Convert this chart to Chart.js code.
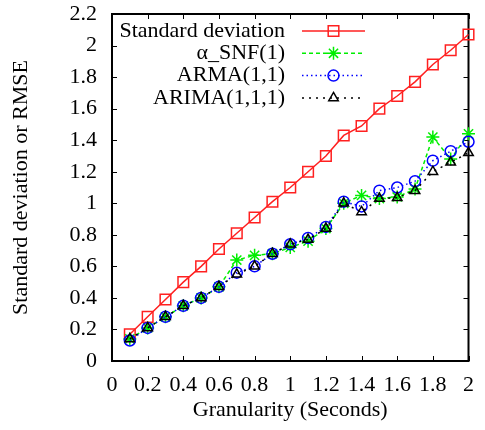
<!DOCTYPE html>
<html>
<head>
<meta charset="utf-8">
<script src="https://cdn.jsdelivr.net/npm/chart.js@4/dist/chart.umd.min.js"></script>
<style>
  html, body { margin: 0; padding: 0; background: #fff; }
  #wrap { width: 485px; height: 430px; }
</style>
</head>
<body>
<div id="wrap"><canvas id="granularityChart"></canvas></div>
<script>
// Granularity in seconds
const granularity = [0.1, 0.2, 0.3, 0.4, 0.5, 0.6, 0.7, 0.8, 0.9, 1.0,
  1.1, 1.2, 1.3, 1.4, 1.5, 1.6, 1.7, 1.8, 1.9, 2.0]

const stdDev = [0.17, 0.28, 0.39, 0.50, 0.60, 0.71, 0.81, 0.91, 1.01, 1.10,
  1.20, 1.30, 1.43, 1.49, 1.60, 1.68, 1.77, 1.88, 1.97, 2.07]
const snfRmse = [0.14, 0.21, 0.28, 0.35, 0.40, 0.47, 0.64, 0.67, 0.68, 0.72,
  0.76, 0.84, 1.00, 1.05, 1.03, 1.04, 1.09, 1.42, 1.28, 1.44]
const armaRmse = [0.13, 0.21, 0.28, 0.35, 0.40, 0.47, 0.56, 0.60, 0.68, 0.74,
  0.78, 0.85, 1.01, 0.98, 1.08, 1.10, 1.14, 1.27, 1.33, 1.39]
const arimaRmse = [0.14, 0.21, 0.28, 0.35, 0.40, 0.47, 0.55, 0.60, 0.68, 0.74,
  0.77, 0.84, 1.00, 0.945, 1.03, 1.035, 1.08, 1.20, 1.26, 1.32]

const xTicks = [0, 0.2, 0.4, 0.6, 0.8, 1, 1.2, 1.4, 1.6, 1.8, 2]
const xTickLabels = ["0", "0.2", "0.4", "0.6", "0.8", "1", "1.2", "1.4", "1.6", "1.8", "2"]
const yTicks = [0, 0.2, 0.4, 0.6, 0.8, 1, 1.2, 1.4, 1.6, 1.8, 2, 2.2]
const yTickLabels = ["0", "0.2", "0.4", "0.6", "0.8", "1", "1.2", "1.4", "1.6", "1.8", "2", "2.2"]

const toPoints = (ys) => granularity.map((x, i) => ({ x: x, y: ys[i] }))

const FONT = "'Liberation Serif', 'DejaVu Serif', serif"

// gnuplot-style frame with inward tick marks on all four sides
const framePlugin = {
  id: "frame",
  beforeDatasetsDraw(chart) {
    const { ctx, chartArea: a, scales } = chart
    const len = 5
    ctx.save()
    ctx.strokeStyle = "#000"
    ctx.lineWidth = 1
    xTicks.forEach((v) => {
      const px = Math.round(scales.x.getPixelForValue(v)) + 0.5
      ctx.beginPath()
      ctx.moveTo(px, a.bottom); ctx.lineTo(px, a.bottom - len)
      ctx.moveTo(px, a.top); ctx.lineTo(px, a.top + len)
      ctx.stroke()
    })
    yTicks.forEach((v) => {
      const py = Math.round(scales.y.getPixelForValue(v)) + 0.5
      ctx.beginPath()
      ctx.moveTo(a.left, py); ctx.lineTo(a.left + len, py)
      ctx.moveTo(a.right, py); ctx.lineTo(a.right - len, py)
      ctx.stroke()
    })
    ctx.lineWidth = 2
    ctx.strokeRect(a.left, a.top, a.right - a.left, a.bottom - a.top)
    ctx.restore()
  },
}

// key in the top-left corner: right-aligned text, line sample to the right
const keyPlugin = {
  id: "key",
  afterDatasetsDraw(chart) {
    const ctx = chart.ctx
    const textRight = 285
    const lineStart = 302
    const lineEnd = 365
    const top = 31
    const step = 22.3
    ctx.save()
    chart.data.datasets.forEach((ds, i) => {
      const y = top + i * step
      ctx.fillStyle = "#000"
      ctx.font = "22px " + FONT
      ctx.textAlign = "right"
      ctx.textBaseline = "middle"
      ctx.fillText(ds.label, textRight, y)

      ctx.strokeStyle = ds.borderColor
      ctx.lineWidth = ds.borderWidth
      ctx.setLineDash(ds.borderDash || [])
      ctx.beginPath()
      ctx.moveTo(lineStart, y)
      ctx.lineTo(lineEnd, y)
      ctx.stroke()
      ctx.setLineDash([])

      ctx.fillStyle = "rgba(0,0,0,0)"
      ctx.strokeStyle = ds.pointBorderColor
      ctx.lineWidth = ds.pointBorderWidth
      Chart.helpers.drawPoint(ctx, {
        pointStyle: ds.pointStyle,
        radius: ds.pointRadius,
        rotation: 0,
        borderWidth: ds.pointBorderWidth,
      }, (lineStart + lineEnd) / 2, y)
    })
    ctx.restore()
  },
}

Chart.defaults.font.family = FONT
Chart.defaults.font.size = 22
Chart.defaults.color = "#000"

const ctx = document.getElementById("granularityChart").getContext("2d")
new Chart(ctx, {
  type: "line",
  data: {
    datasets: [
      {
        label: "Standard deviation",
        data: toPoints(stdDev),
        borderColor: "#ff2020",
        borderWidth: 1.5,
        pointStyle: "rect",
        pointRadius: 7.5,
        pointBorderColor: "#ff2020",
        pointBackgroundColor: "transparent",
        pointBorderWidth: 1.5,
        order: 3,
      },
      {
        label: "α_SNF(1)",
        data: toPoints(snfRmse),
        borderColor: "#00ee00",
        borderWidth: 1.5,
        borderDash: [4, 3],
        pointStyle: "star",
        pointRadius: 6.5,
        pointBorderColor: "#00ee00",
        pointBackgroundColor: "transparent",
        pointBorderWidth: 1.5,
        order: 2,
      },
      {
        label: "ARMA(1,1)",
        data: toPoints(armaRmse),
        borderColor: "#0000ff",
        borderWidth: 1.5,
        borderDash: [1.5, 3],
        pointStyle: "circle",
        pointRadius: 5.5,
        pointBorderColor: "#0000ff",
        pointBackgroundColor: "transparent",
        pointBorderWidth: 1.5,
        order: 1,
      },
      {
        label: "ARIMA(1,1,1)",
        data: toPoints(arimaRmse),
        borderColor: "#000",
        borderWidth: 1.5,
        borderDash: [2, 5],
        pointStyle: "triangle",
        pointRadius: 5.5,
        pointBorderColor: "#000",
        pointBackgroundColor: "transparent",
        pointBorderWidth: 1.5,
        order: 0,
      },
    ],
  },
  options: {
    responsive: true,
    maintainAspectRatio: false,
    devicePixelRatio: 1,
    animation: false,
    clip: false,
    layout: {
      padding: { top: 14, right: 11, left: 0, bottom: 0 },
    },
    plugins: {
      legend: { display: false },
      tooltip: { enabled: false },
    },
    elements: {
      line: { tension: 0, fill: false },
    },
    scales: {
      x: {
        type: "linear",
        min: 0,
        max: 2,
        afterBuildTicks: (s) => { s.ticks = xTicks.map((v) => ({ value: v })) },
        afterFit: (s) => { s.height = 69 },
        grid: { display: false, drawTicks: false },
        border: { display: false },
        ticks: {
          padding: 11,
          maxRotation: 0,
          autoSkip: false,
          callback: (v, i) => xTickLabels[i],
        },
        title: {
          display: true,
          text: "Granularity (Seconds)",
          padding: { top: 0, bottom: 7 },
        },
      },
      y: {
        min: 0,
        max: 2.2,
        afterBuildTicks: (s) => { s.ticks = yTicks.map((v) => ({ value: v })) },
        afterFit: (s) => {
          s.width = 112
          s.paddingTop = 0
          s.paddingBottom = 0
        },
        grid: { display: false, drawTicks: false },
        border: { display: false },
        ticks: {
          padding: 15,
          autoSkip: false,
          callback: (v, i) => yTickLabels[i],
        },
        title: {
          display: true,
          text: "Standard deviation or RMSE",
          padding: { top: 8, bottom: 0 },
        },
      },
    },
  },
  plugins: [framePlugin, keyPlugin],
})
</script>
</body>
</html>
